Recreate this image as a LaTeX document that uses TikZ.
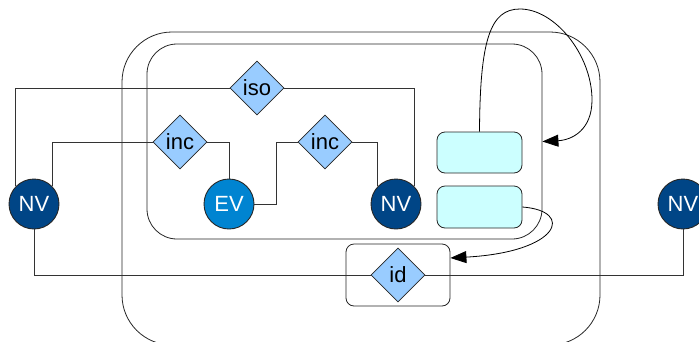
\documentclass[tikz,border=0pt]{standalone}
\usepackage{fontspec}
\setmainfont{Liberation Sans}
\usetikzlibrary{shapes.geometric,arrows.meta}
\definecolor{nvblue}{HTML}{004586}
\definecolor{evblue}{HTML}{0084D1}
\definecolor{relblue}{HTML}{99CCFF}
\definecolor{slotcyan}{HTML}{CCFFFF}
\begin{document}
\begin{tikzpicture}[x=1pt,y=-1pt,
  every node/.style={font=\fontsize{22}{24}\selectfont, inner sep=0pt},
  line/.style={draw=black!80, line width=0.9pt},
  vertex/.style={circle, draw=black!85, line width=0.9pt, minimum size=50pt, text=white},
  rel/.style={diamond, draw=black!85, line width=0.8pt, fill=relblue, minimum width=54pt, minimum height=54pt},
  slot/.style={rounded corners=8pt, draw=black!85, line width=0.8pt, fill=slotcyan, minimum width=85pt, minimum height=41pt},
  container/.style={draw=black!85, line width=0.8pt},
  curvearrow/.style={draw=black, line width=0.8pt, -{Triangle[length=16pt,width=12pt]}}
  ]
\useasboundingbox (0,0) rectangle (699,341);
\clip (0,0) rectangle (699,341);

% containers
\node[container, rounded corners=50pt, minimum width=478pt, minimum height=313pt] (outer) at (361,188.5) {};
\node[container, rounded corners=30pt, minimum width=395pt, minimum height=195pt] (inner) at (344.5,141.5) {};
\node[container, rounded corners=8pt, minimum width=104pt, minimum height=62pt] (idbox) at (398,275) {};

% nodes
\node[vertex, fill=nvblue] (nvl) at (34,204) {NV};
\node[vertex, fill=evblue] (ev) at (229,204) {EV};
\node[vertex, fill=nvblue] (nvm) at (396,204) {NV};
\node[vertex, fill=nvblue] (nvr) at (683,204) {NV};

\node[rel] (iso) at (257,88) {iso};
\node[rel] (inca) at (180,142) {inc};
\node[rel] (incb) at (325,142) {inc};
\node[rel] (id) at (398,275) {id};

\node[slot] (ca) at (479.5,152.5) {};
\node[slot, minimum height=42pt] (cb) at (479.5,207) {};

% connectors
\begin{scope}[on background layer/.try]
\end{scope}
\draw[line] (nvl.136) |- (iso.west);
\draw[line] (iso.east) -| (nvm.45);
\draw[line] (nvl.44) |- (inca.west);
\draw[line] (inca.east) -| (ev.north);
\draw[line] (ev.east) -- ++(22,0) |- (incb.west);
\draw[line] (incb.east) -| (nvm.136);
\draw[line] (nvl.south) |- (id.west);
\draw[line] (id.east) -| (nvr.south);

% curved arrows
\draw[curvearrow] (ca.north) .. controls (480,40) and (490,9) .. (520,9)
   .. controls (555,9) and (592,55) .. (592,100)
   .. controls (592,130) and (572,140) .. (inner.east);
\draw[curvearrow] (cb.east) .. controls (575,211) and (560,252) .. (idbox.18);
\end{tikzpicture}
\end{document}
